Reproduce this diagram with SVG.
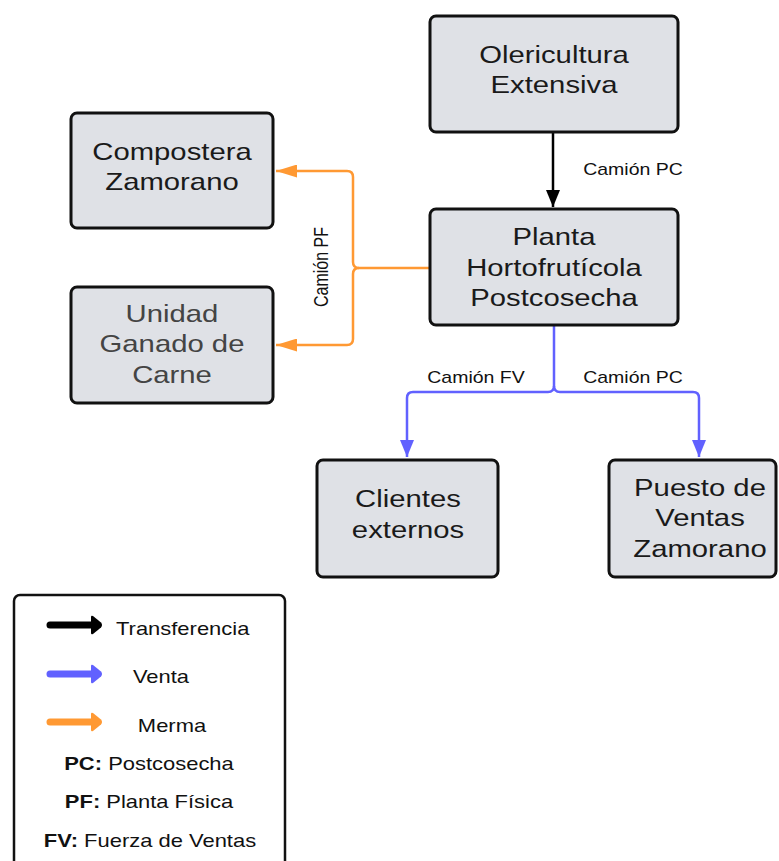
<svg xmlns="http://www.w3.org/2000/svg" width="779" height="861" viewBox="0 0 779 861">
<style>
.box{fill:#dfe1e6;stroke:#111;stroke-width:3}
.n{font-family:"Liberation Sans",Arial,sans-serif;font-size:24px;fill:#1a1a1a;text-anchor:middle}
.g{fill:#444}
.l{font-family:"Liberation Sans",Arial,sans-serif;font-size:16px;fill:#111;text-anchor:middle}
.lg{font-family:"Liberation Sans",Arial,sans-serif;font-size:18px;fill:#111}
.c{fill:none;stroke-width:2.5}
.k{stroke:#000}
.b{stroke:#6161ff}
.o{stroke:#ff9933}
.leg{fill:none;stroke-width:7;stroke-linecap:round}
</style>
<defs>
<marker id="ak" markerUnits="userSpaceOnUse" markerWidth="18" markerHeight="14" refX="17" refY="7" orient="auto"><path d="M0,0 L17,7 L0,14 z" fill="#000"/></marker>
<marker id="ab" markerUnits="userSpaceOnUse" markerWidth="18" markerHeight="14" refX="17" refY="7" orient="auto"><path d="M0,0 L17,7 L0,14 z" fill="#6161ff"/></marker>
<marker id="ao" markerUnits="userSpaceOnUse" markerWidth="22" markerHeight="13" refX="21" refY="6.5" orient="auto"><path d="M0,0 L21,6.5 L0,13 z" fill="#ff9933"/></marker>
<marker id="lk" markerUnits="userSpaceOnUse" markerWidth="14" markerHeight="20" refX="2" refY="10" orient="auto"><path d="M1,2 Q1,0 3,1 L11,7.5 Q13,10 11,12.5 L3,19 Q1,20 1,18 z" fill="#000"/></marker>
<marker id="lb" markerUnits="userSpaceOnUse" markerWidth="14" markerHeight="20" refX="2" refY="10" orient="auto"><path d="M1,2 Q1,0 3,1 L11,7.5 Q13,10 11,12.5 L3,19 Q1,20 1,18 z" fill="#6161ff"/></marker>
<marker id="lo" markerUnits="userSpaceOnUse" markerWidth="14" markerHeight="20" refX="2" refY="10" orient="auto"><path d="M1,2 Q1,0 3,1 L11,7.5 Q13,10 11,12.5 L3,19 Q1,20 1,18 z" fill="#ff9933"/></marker>
</defs>

<g id="connectors">
<path class="c k" d="M553,132 V207" marker-end="url(#ak)"/>
<path class="c b" d="M554,325 V386 Q554,392 548,392 H413 Q407,392 407,398 V457" marker-end="url(#ab)"/>
<path class="c b" d="M554,386 Q554,392 560,392 H693 Q699,392 699,398 V457" marker-end="url(#ab)"/>
<path class="c o" d="M430,268 H359 Q353,268 353,262 V177 Q353,171 347,171 H276" marker-end="url(#ao)"/>
<path class="c o" d="M359,268 Q353,268 353,274 V339 Q353,345 347,345 H276" marker-end="url(#ao)"/>
<text class="l" transform="translate(633,0) scale(1.22,1)" y="175">Camión PC</text>
<text class="l" transform="translate(476,0) scale(1.22,1)" y="383">Camión FV</text>
<text class="l" transform="translate(633,0) scale(1.22,1)" y="383">Camión PC</text>
<text class="l" transform="translate(328,267) scale(1.22,1) rotate(-90)" x="0" y="0">Camión PF</text>
</g>

<g id="olericultura">
<rect class="box" x="430" y="16" width="248" height="116" rx="6"/>
<text class="n" transform="translate(554,0) scale(1.22,1)"><tspan x="0" y="63">Olericultura</tspan><tspan x="0" y="93">Extensiva</tspan></text>
</g>
<g id="planta">
<rect class="box" x="430" y="209" width="248" height="116" rx="6"/>
<text class="n" transform="translate(554,0) scale(1.22,1)"><tspan x="0" y="245">Planta</tspan><tspan x="0" y="276">Hortofrutícola</tspan><tspan x="0" y="306">Postcosecha</tspan></text>
</g>
<g id="compostera">
<rect class="box" x="71" y="113" width="202" height="115" rx="6"/>
<text class="n" transform="translate(172,0) scale(1.22,1)"><tspan x="0" y="160">Compostera</tspan><tspan x="0" y="190">Zamorano</tspan></text>
</g>
<g id="unidad">
<rect class="box" x="71" y="287" width="202" height="116" rx="6"/>
<text class="n g" transform="translate(172,0) scale(1.22,1)"><tspan x="0" y="322">Unidad</tspan><tspan x="0" y="352">Ganado de</tspan><tspan x="0" y="383">Carne</tspan></text>
</g>
<g id="clientes">
<rect class="box" x="317" y="460" width="181" height="117" rx="6"/>
<text class="n" transform="translate(408,0) scale(1.22,1)"><tspan x="0" y="507">Clientes</tspan><tspan x="0" y="538">externos</tspan></text>
</g>
<g id="puesto">
<rect class="box" x="609" y="460" width="167" height="117" rx="6"/>
<text class="n" transform="translate(700,0) scale(1.22,1)"><tspan x="0" y="496">Puesto de</tspan><tspan x="0" y="526">Ventas</tspan><tspan x="0" y="557">Zamorano</tspan></text>
</g>

<g id="legend">
<rect x="14" y="595" width="271" height="290" rx="6" fill="#fff" stroke="#111" stroke-width="2.5"/>
<path class="leg" d="M50,625 H92" stroke="#000" marker-end="url(#lk)"/>
<path class="leg" d="M50,674 H92" stroke="#6161ff" marker-end="url(#lb)"/>
<path class="leg" d="M50,722 H92" stroke="#ff9933" marker-end="url(#lo)"/>
<text class="lg" transform="translate(116,0) scale(1.22,1)" x="0" y="635">Transferencia</text>
<text class="lg" transform="translate(161,0) scale(1.22,1)" x="0" y="683" text-anchor="middle">Venta</text>
<text class="lg" transform="translate(172,0) scale(1.22,1)" x="0" y="732" text-anchor="middle">Merma</text>
<text class="lg" transform="translate(149,0) scale(1.22,1)" x="0" y="770" text-anchor="middle"><tspan font-weight="bold">PC:</tspan> Postcosecha</text>
<text class="lg" transform="translate(149,0) scale(1.22,1)" x="0" y="808" text-anchor="middle"><tspan font-weight="bold">PF:</tspan> Planta Física</text>
<text class="lg" transform="translate(150,0) scale(1.22,1)" x="0" y="847" text-anchor="middle"><tspan font-weight="bold">FV:</tspan> Fuerza de Ventas</text>
</g>
</svg>
